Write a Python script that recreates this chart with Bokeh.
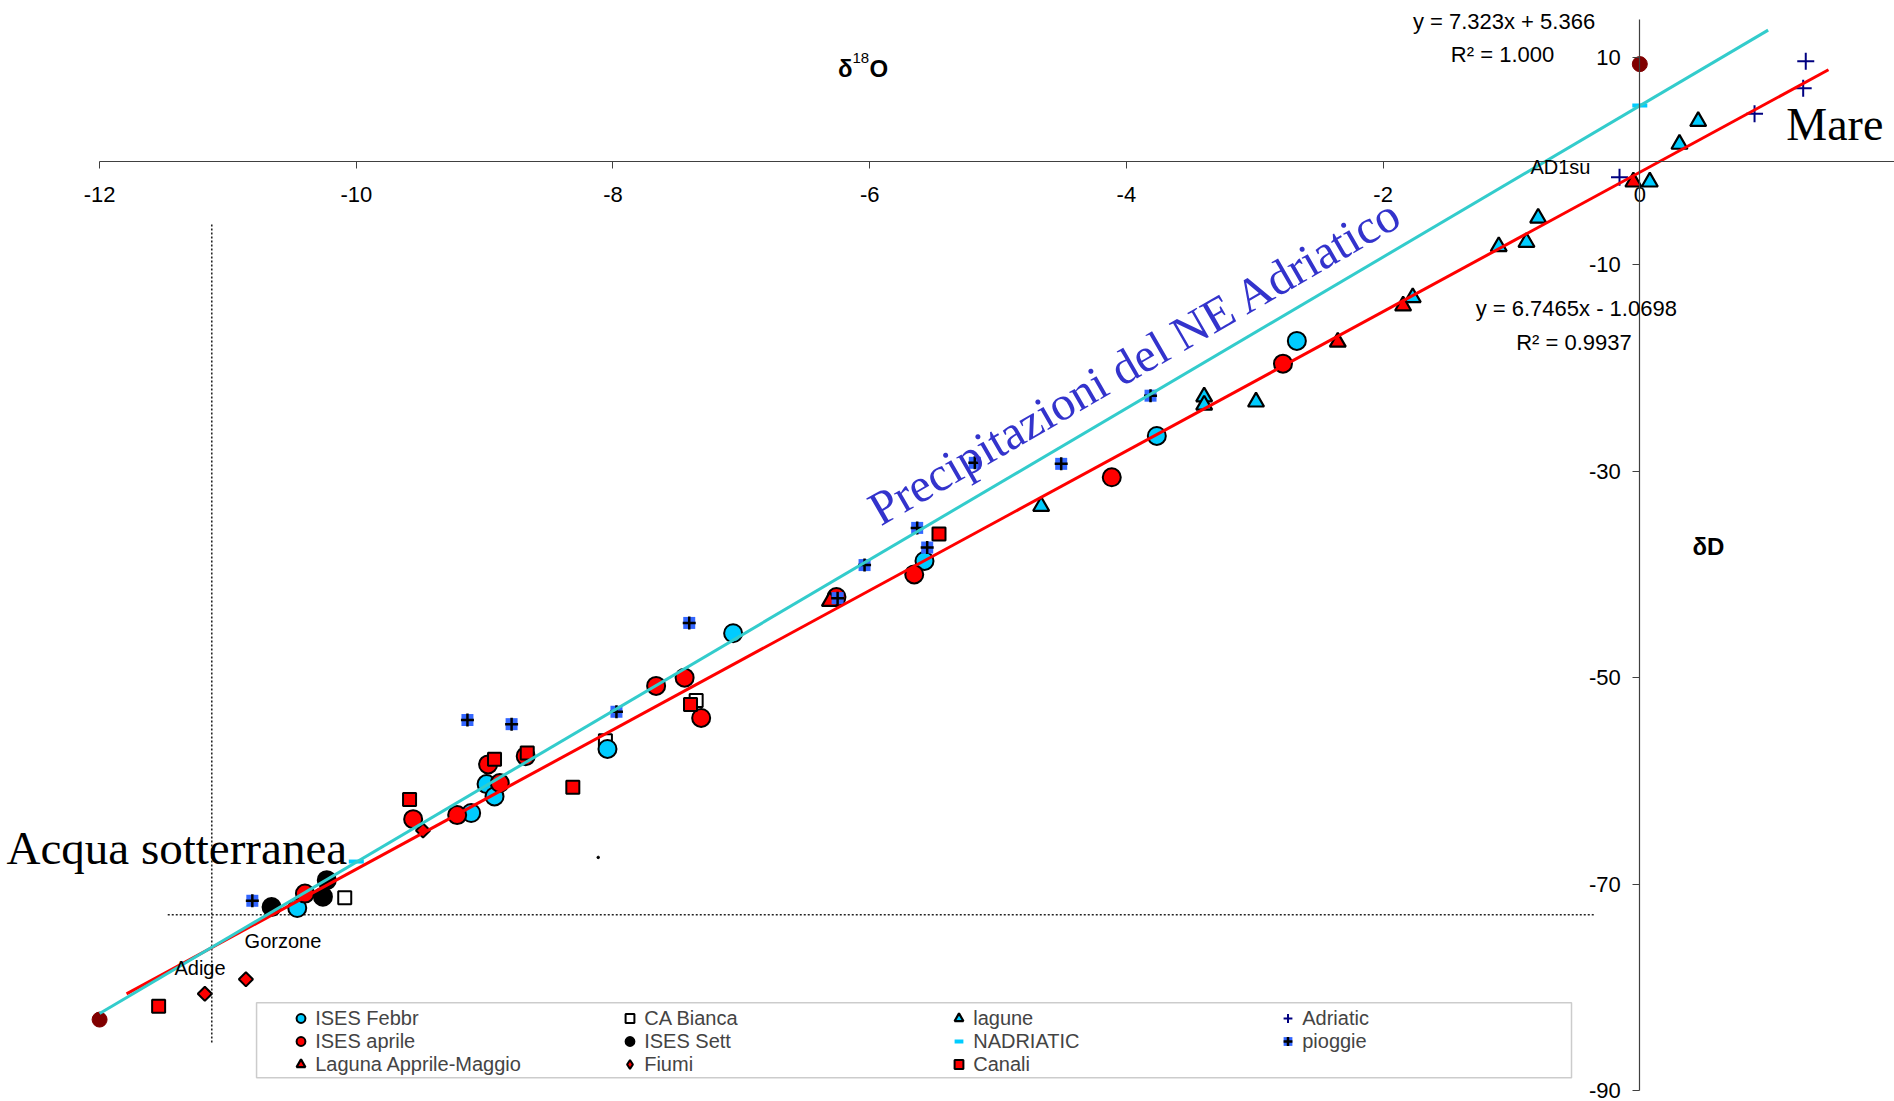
import math
from bokeh.plotting import figure
from bokeh.models import (Range1d, FixedTicker, Label, LegendItem, Legend, BoxAnnotation)
from bokeh.embed import file_html
from bokeh.resources import INLINE

# ---------------- data (δ18O, δD) ----------------
febbr_x = [-10.46, -9.105, -8.985, -8.923, -8.043, -7.064, -5.573, -3.763, -2.672]
febbr_y = [-72.3, -63.1, -60.3, -61.5, -56.9, -45.7, -38.7, -26.6, -17.4]

aprile_x = [-10.40, -9.557, -9.214, -8.973, -8.882, -8.68, -7.664, -7.442, -7.313, -6.259, -5.653, -4.114, -2.78]
aprile_y = [-70.9, -63.7, -63.3, -58.4, -60.2, -57.6, -50.8, -50.0, -53.9, -42.2, -40.0, -30.6, -19.6]

laguna_am_x = [-6.31, -2.353, -1.844, -0.05]
laguna_am_y = [-42.6, -17.5, -14.0, -2.0]

cabianca_x = [-10.09, -8.059, -7.352]
cabianca_y = [-71.3, -56.1, -52.2]

sett_x = [-10.66, -10.26, -10.23]
sett_y = [-72.2, -71.2, -69.6]

fiumi_x = [-11.18, -10.86, -9.48]
fiumi_y = [-80.6, -79.2, -64.8]

lagune_x = [-4.664, -3.394, -3.394, -2.99, -1.769, -1.099, -0.883, -0.792, 0.078, 0.309, 0.455]
lagune_y = [-33.4, -22.8, -23.6, -23.3, -13.2, -8.26, -7.84, -5.5, -2.0, 1.65, 3.86]

nadriatic_x = [-10.0, 0.0]
nadriatic_y = [-67.8, 5.4]

canali_x = [-11.54, -9.585, -8.923, -8.668, -8.313, -7.396, -5.46]
canali_y = [-81.8, -61.8, -57.9, -57.3, -60.6, -52.6, -36.1]

adriatic_x = [-0.158, 0.894, 1.273, 1.293]
adriatic_y = [-1.55, 4.59, 7.07, 9.68]

pioggie_x = [-10.81, -9.134, -8.79, -7.973, -7.406, -6.25, -6.04, -5.63, -5.552, -5.181, -4.508, -3.812]
pioggie_y = [-71.6, -54.1, -54.5, -53.3, -44.7, -42.3, -39.1, -35.5, -37.4, -29.2, -29.3, -22.7]

endpoints_x = [-12.0, 0.0]
endpoints_y = [-83.1, 9.4]

stray_x = [-8.115]
stray_y = [-67.4]

# trendlines (as printed on the chart)
nadr_slope, nadr_icpt = 7.323, 5.366
nadr_xspan = [-12.0, 1.0]
all_slope, all_icpt = 6.7465, -1.0698
all_xspan = [-11.79, 1.47]

# dotted reference lines
vref_x = [-11.126, -11.126]
vref_y = [-6.13, -85.44]
href_x = [-11.469, -0.347]
href_y = [-72.95, -72.95]

x_ticks = [-12, -10, -8, -6, -4, -2, 0, 2]
x_tick_labels = ["-12", "-10", "-8", "-6", "-4", "-2", "0", "2"]
y_ticks = [-90, -70, -50, -30, -10, 10]
y_tick_labels = ["-90", "-70", "-50", "-30", "-10", "10"]

# ---------------- figure ----------------
W, H = 1894, 1101
X0, X1, Y0, Y1 = -12.772, 1.9844, -91.03, 15.557
p = figure(width=W, height=H, x_range=Range1d(X0, X1), y_range=Range1d(Y0, Y1),
           output_backend="svg", toolbar_location=None, min_border=0)
p.min_border_left = p.min_border_right = p.min_border_top = p.min_border_bottom = 0
p.outline_line_color = None
p.grid.visible = False
PX_X = W / (X1 - X0)   # pixels per x unit
PX_Y = H / (Y1 - Y0)   # pixels per y unit

AX = "#404040"
SANS = "Liberation Sans"
SERIF = "Liberation Serif"

xa = p.xaxis[0]
xa.fixed_location = 0
xa.bounds = (-12, 2)
xa.ticker = FixedTicker(ticks=x_ticks)
xa.major_label_overrides = {t: s for t, s in zip(x_ticks, x_tick_labels)}
ya = p.yaxis[0]
ya.fixed_location = 0
ya.bounds = (-90, 13.7)
ya.ticker = FixedTicker(ticks=y_ticks)
ya.major_label_overrides = {t: s for t, s in zip(y_ticks, y_tick_labels)}
for ax in (xa, ya):
    ax.major_label_text_font = SANS
    ax.major_label_text_font_size = "22px"
    ax.major_label_text_color = "black"
    ax.major_tick_out = 7
    ax.major_tick_in = 0
    ax.minor_tick_out = 0
    ax.minor_tick_in = 0
    ax.axis_line_color = AX
    ax.major_tick_line_color = AX
    ax.axis_line_width = 1.2
xa.major_label_standoff = 19
ya.major_label_standoff = 12

# dotted lines
p.line(vref_x, vref_y, line_color="#222222", line_width=1.6, line_dash="2 2")
p.line(href_x, href_y, line_color="#222222", line_width=1.6, line_dash="2 2")

CYAN = "#00CCFF"
RED = "#FF0000"
OL = "black"

r_cab = p.scatter(cabianca_x, cabianca_y, marker="square", size=13, fill_color="white", line_color=OL, line_width=2)
r_feb = p.scatter(febbr_x, febbr_y, marker="circle", size=18, fill_color=CYAN, line_color=OL, line_width=2)
r_apr = p.scatter(aprile_x, aprile_y, marker="circle", size=18, fill_color=RED, line_color=OL, line_width=2)
r_set = p.scatter(sett_x, sett_y, marker="circle", size=18, fill_color="black", line_color=OL, line_width=2)
r_lag = p.scatter(lagune_x, lagune_y, marker="triangle", size=16, fill_color=CYAN, line_color=OL, line_width=2.2)
r_lam = p.scatter(laguna_am_x, laguna_am_y, marker="triangle", size=16, fill_color=RED, line_color=OL, line_width=2.2)
# diamond key for the legend (hidden beneath the rotated squares)
r_fiu_key = p.scatter(fiumi_x, fiumi_y, marker="diamond", size=11, fill_color=RED, line_color=OL, line_width=2)
r_fiu = p.scatter(fiumi_x, fiumi_y, marker="square", angle=0.785398, size=10, fill_color=RED, line_color=OL, line_width=2)
r_can = p.scatter(canali_x, canali_y, marker="square", size=13, fill_color=RED, line_color=OL, line_width=2)
r_end = p.scatter(endpoints_x, endpoints_y, marker="circle", size=15, fill_color="#800000", line_color="#800000")
p.scatter(stray_x, stray_y, marker="circle", size=2.5, fill_color="black", line_color="black")
r_nad = p.scatter(nadriatic_x, nadriatic_y, marker="dash", size=15, line_color=CYAN, line_width=4)
r_adr = p.scatter(adriatic_x, adriatic_y, marker="cross", size=17, line_color="#000080", line_width=2)
r_pio1 = p.scatter(pioggie_x, pioggie_y, marker="square", size=12, fill_color="#3366FF", line_color=None)
r_pio2 = p.scatter(pioggie_x, pioggie_y, marker="cross", size=13, line_color="black", line_width=2.5)

# trendlines
p.line(all_xspan, [all_slope * v + all_icpt for v in all_xspan], line_color=RED, line_width=3)
p.line(nadr_xspan, [nadr_slope * v + nadr_icpt for v in nadr_xspan], line_color="#33CCCC", line_width=3)

# ---------------- texts ----------------
BASE_FIX = 0.32  # em; lifts the rendered alphabetic baseline onto the intended one

def lab(x, y, text, size, font=SANS, style="normal", color="black", align="left", angle=0.0):
    d = BASE_FIX * size
    x_adj = x - d * math.sin(angle) / PX_X
    y_adj = y + d * math.cos(angle) / PX_Y
    p.add_layout(Label(x=x_adj, y=y_adj, text=text, text_font=font, text_font_size=f"{size}px",
                       text_font_style=style, text_color=color, text_align=align,
                       text_baseline="alphabetic", angle=angle))

lab(-12.725, -67.9, "Acqua sotterranea", 47, font=SERIF)
lab(1.141, 2.17, "Mare", 46, font=SERIF)
lab(-5.918, -35.27, "Precipitazioni del NE Adriatico", 48, font=SERIF, color="#3333CC", angle=0.524)
lab(-10.87, -76.1, "Gorzone", 20)
lab(-11.417, -78.76, "Adige", 20)
lab(-0.852, -1.16, "AD1su", 20)
lab(-1.058, 12.82, "y = 7.323x + 5.366", 22, align="center")
lab(-1.472, 9.65, "R² = 1.000", 22)
lab(-0.495, -14.94, "y = 6.7465x - 1.0698", 22, align="center")
lab(-0.963, -18.26, "R² = 0.9937", 22)
lab(-6.247, 8.2, "δ", 24, style="bold")
lab(-6.134, 9.52, "18", 15)
lab(-6.001, 8.2, "O", 24, style="bold")
lab(0.41, -38.07, "δD", 24, style="bold")

# ---------------- legend ----------------
p.add_layout(BoxAnnotation(left=-10.777, right=-0.532, top=-81.47, bottom=-88.73,
                           fill_color="white", fill_alpha=1.0, line_color="#555555", line_width=1.5))

items = [
    LegendItem(label="ISES Febbr", renderers=[r_feb]),
    LegendItem(label="ISES aprile", renderers=[r_apr]),
    LegendItem(label="Laguna Apprile-Maggio", renderers=[r_lam]),
    LegendItem(label="CA Bianca", renderers=[r_cab]),
    LegendItem(label="ISES Sett", renderers=[r_set]),
    LegendItem(label="Fiumi", renderers=[r_fiu_key]),
    LegendItem(label="lagune", renderers=[r_lag]),
    LegendItem(label="NADRIATIC", renderers=[r_nad]),
    LegendItem(label="Canali", renderers=[r_can]),
    LegendItem(label="Adriatic", renderers=[r_adr]),
    LegendItem(label="pioggie", renderers=[r_pio1, r_pio2]),
]
legend = Legend(items=items, orientation="vertical", nrows=3, location=(286.2, 25.2),
                border_line_color=None, background_fill_alpha=0, padding=0, margin=0, spacing=0,
                glyph_width=29, glyph_height=22, label_width=300, label_height=22, label_standoff=0,
                label_text_font=SANS, label_text_font_size="20px")
p.add_layout(legend)

open("out.html", "w").write(file_html(p, INLINE))
